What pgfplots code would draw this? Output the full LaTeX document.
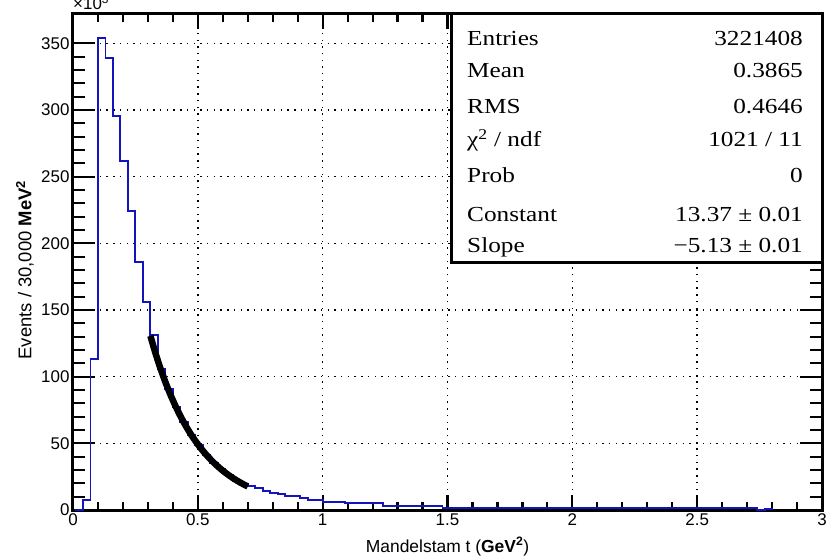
\documentclass[border=0pt]{standalone}
\usepackage{graphicx}
\usepackage{pgfplots}
\pgfplotsset{compat=1.18}
\usepackage{pgfplotstable}
\usepackage{fontspec}
\setmainfont{Liberation Sans}
\newfontfamily\statfont{Liberation Serif}
\definecolor{histblue}{rgb}{0.08,0.08,0.75}

\pgfplotstableread{
x y
0.01 0
0.04 7.5
0.07 113
0.10 354
0.13 339
0.16 295.5
0.19 262
0.22 224.5
0.25 186
0.28 156
0.31 131
0.34 106
0.37 91
0.40 77.5
0.43 66
0.46 56
0.49 48.5
0.52 41.5
0.55 35.5
0.58 30.5
0.61 26
0.64 22
0.67 19.5
0.70 18.2
0.73 16.3
0.76 14.3
0.79 13
0.82 12
0.85 10.7
0.88 10.7
0.91 8.7
0.94 7.5
0.97 7.5
1.00 5.7
1.03 5.7
1.06 5.7
1.09 5
1.12 5
1.15 5
1.18 5
1.21 5
1.24 3.2
1.27 3.2
1.30 3.2
1.33 3.2
1.36 3.2
1.39 3.2
1.42 3.2
1.45 3.2
1.48 1.8
1.51 1.8
1.54 1.8
1.57 1.8
1.60 1.8
1.63 1.8
1.66 1.8
1.69 1.8
1.72 1.8
1.75 1.8
1.78 1.8
1.81 1.8
1.84 1.8
1.87 1.8
1.90 1.8
1.93 1.8
1.96 1.8
1.99 1.5
2.02 1.5
2.05 1.5
2.08 1.5
2.11 1.5
2.14 1.5
2.17 1.5
2.20 1.5
2.23 1.5
2.26 1.5
2.29 1.5
2.32 1.5
2.35 1.5
2.38 1.2
2.41 1.2
2.44 1.2
2.47 1.2
2.50 1.2
2.53 1.2
2.56 1.2
2.59 1.2
2.62 1.2
2.65 1.2
2.68 1.2
2.71 1.2
2.74 0
2.77 1.0
2.80 0
}\histdata

\pgfplotstableread{
x y
0.31 130.6
0.33 117.85
0.35 106.36
0.37 95.99
0.39 86.62
0.41 78.17
0.43 70.55
0.45 63.67
0.47 57.46
0.49 51.86
0.51 46.80
0.53 42.24
0.55 38.12
0.57 34.40
0.59 31.05
0.61 28.02
0.63 25.29
0.65 22.82
0.67 20.60
0.69 18.59
0.70 17.66
}\fitdata

\begin{document}
\begin{tikzpicture}
\useasboundingbox (-73bp,-48bp) rectangle (756bp,510bp);
\begin{axis}[
  at={(0bp,0bp)}, anchor=south west,
  scale only axis, width=749bp, height=496bp,
  xmin=0, xmax=3, ymin=0, ymax=372,
  xtick={0,0.5,1,1.5,2,2.5,3},
  xticklabels={0,0.5,1,1.5,2,2.5,3},
  ytick={0,50,100,150,200,250,300,350},
  minor x tick num=4, minor y tick num=4,
  tick align=inside,
  major tick length=15bp, minor tick length=8bp,
  y tick style={/pgfplots/major tick length=22bp, /pgfplots/minor tick length=12bp},
  every tick/.style={black, line width=2.2bp},
  axis line style={line width=3bp},
  grid=major,
  major grid style={black, line width=1.6bp, dash pattern=on 1.4bp off 5.3bp},
  tick label style={font=\fontsize{17}{20}\selectfont},
  /pgf/number format/assume math mode=true,
  clip=true,
]
\addplot[const plot, histblue, line width=1.9bp] table[x=x,y=y] {\histdata};
\addplot[black, line width=6.5bp, smooth] table[x=x,y=y] {\fitdata};
\end{axis}
\node[anchor=base, inner sep=0pt, font=\fontsize{17.5}{20}\selectfont] at (374.5bp,-42bp) {Mandelstam t (\textbf{GeV\textsuperscript{2}})};
\node[rotate=90, anchor=center, inner sep=0pt, font=\fontsize{18.5}{20}\selectfont] at (-48bp,240bp) {Events / 30,000 \textbf{MeV\textsuperscript{2}}};
\node[anchor=base west, inner sep=0pt, font=\fontsize{17}{20}\selectfont] at (0bp,500bp) {×10\textsuperscript{3}};
% statistics box
\draw[line width=3bp, fill=white] (378bp,247bp) rectangle (749bp,496bp);
\begin{scope}[every node/.style={inner sep=0pt, font=\statfont\fontsize{21.5}{24}\selectfont}]
\node[anchor=base west] at (394bp,464.3bp) {\scalebox{1.18}[1]{Entries}};
\node[anchor=base east] at (730bp,464.3bp) {\scalebox{1.18}[1]{3221408}};
\node[anchor=base west] at (394bp,432.3bp) {\scalebox{1.18}[1]{Mean}};
\node[anchor=base east] at (730bp,432.3bp) {\scalebox{1.18}[1]{0.3865}};
\node[anchor=base west] at (394bp,396.7bp) {\scalebox{1.18}[1]{RMS}};
\node[anchor=base east] at (730bp,396.7bp) {\scalebox{1.18}[1]{0.4646}};
\node[anchor=base west] at (394bp,363.3bp) {\scalebox{1.18}[1]{χ\textsuperscript{2} / ndf}};
\node[anchor=base east] at (730bp,363.3bp) {\scalebox{1.18}[1]{1021 / 11}};
\node[anchor=base west] at (394bp,327.3bp) {\scalebox{1.18}[1]{Prob}};
\node[anchor=base east] at (730bp,327.3bp) {\scalebox{1.18}[1]{0}};
\node[anchor=base west] at (394bp,288.3bp) {\scalebox{1.18}[1]{Constant}};
\node[anchor=base east] at (730bp,288.3bp) {\scalebox{1.18}[1]{13.37 ± 0.01}};
\node[anchor=base west] at (394bp,257.7bp) {\scalebox{1.18}[1]{Slope}};
\node[anchor=base east] at (730bp,257.7bp) {\scalebox{1.18}[1]{−5.13 ± 0.01}};
\end{scope}
\end{tikzpicture}
\end{document}
